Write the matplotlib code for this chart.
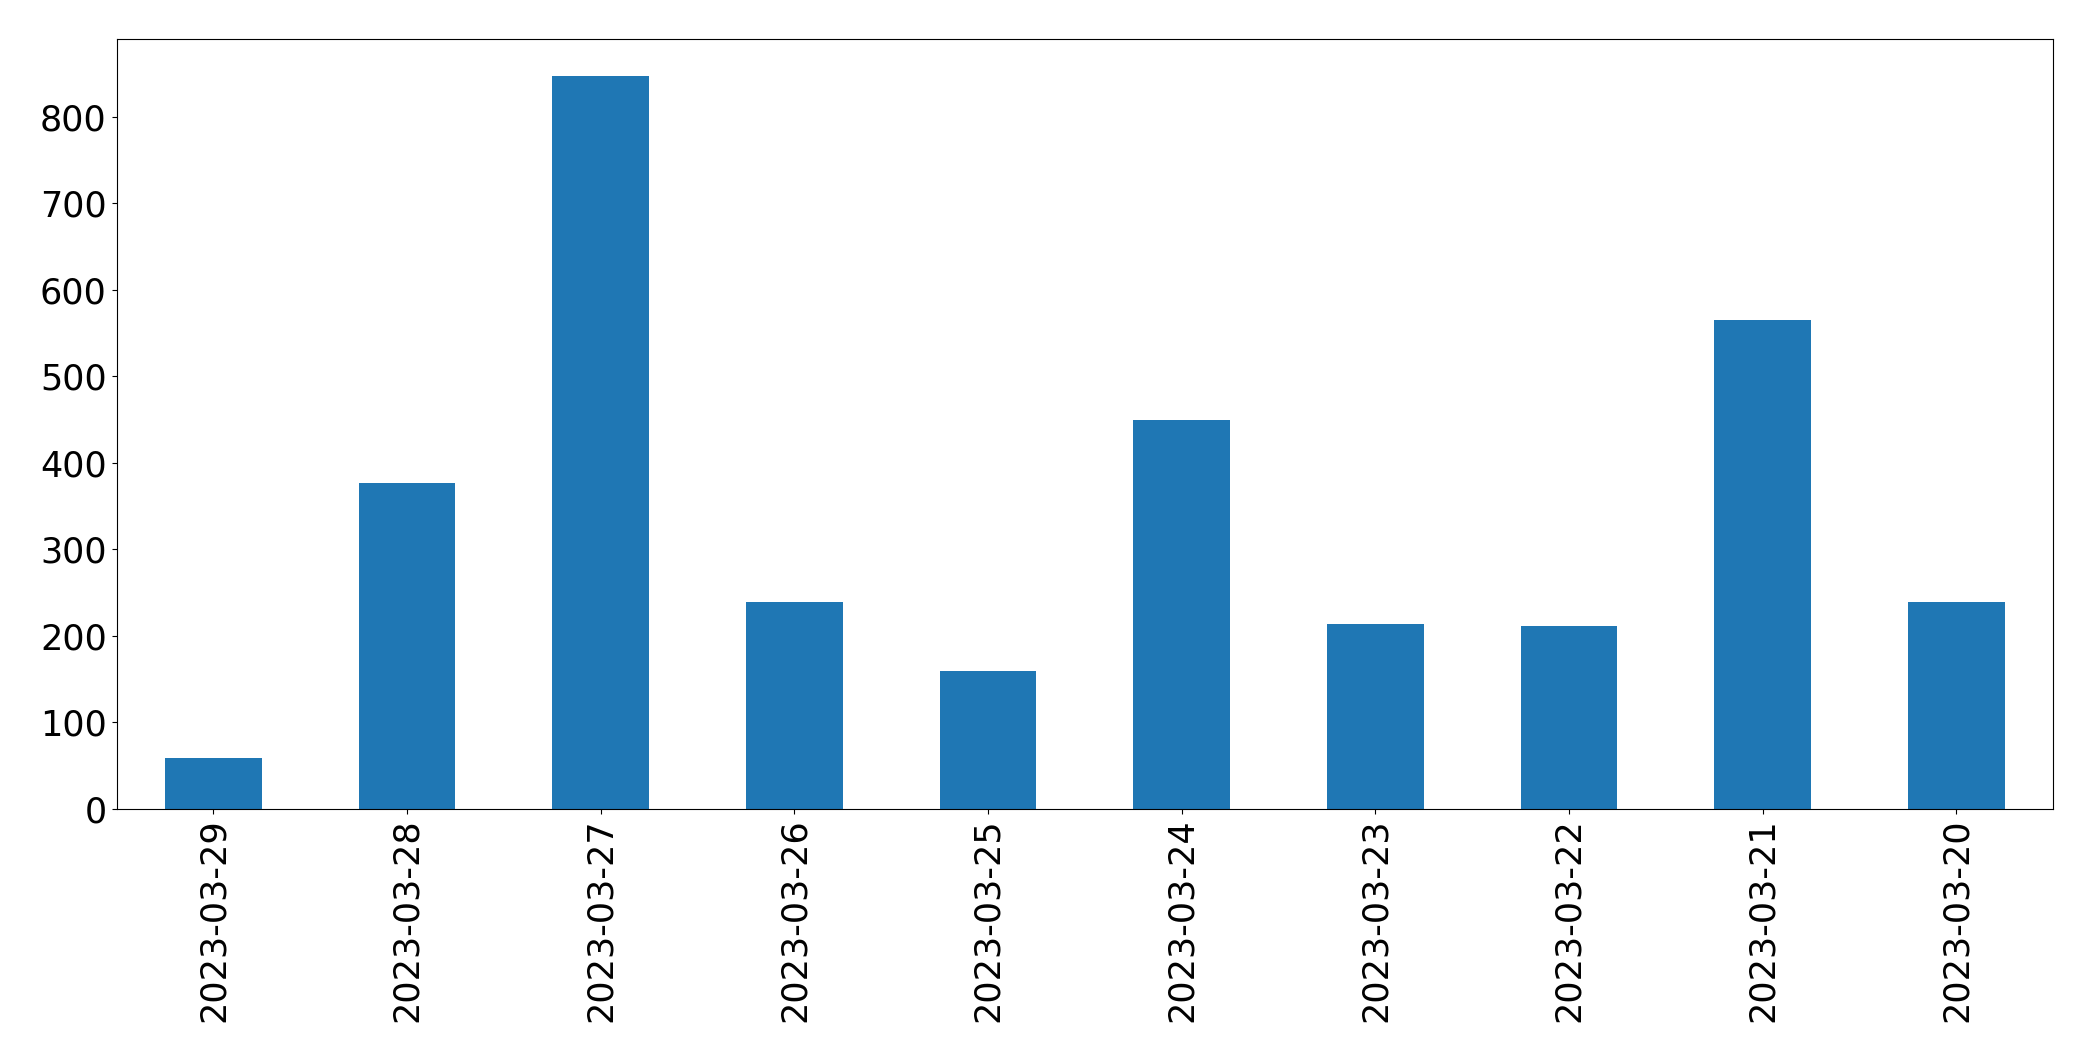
#!/usr/bin/env python3
"""Daily counts bar chart, newest date first."""

import matplotlib

matplotlib.use("Agg")
import matplotlib.pyplot as plt
import numpy as np


DATES = [
    "2023-03-29",
    "2023-03-28",
    "2023-03-27",
    "2023-03-26",
    "2023-03-25",
    "2023-03-24",
    "2023-03-23",
    "2023-03-22",
    "2023-03-21",
    "2023-03-20",
]
COUNTS = [59, 377, 847, 239, 159, 450, 214, 211, 565, 239]

BLUE = "#1f77b4"


def main() -> None:
    fig = plt.figure(figsize=(20.93, 10.61), dpi=100, facecolor="white")
    ax = fig.add_axes([0.0557, 0.2375, 0.9253, 0.7255])
    positions = np.arange(len(DATES))
    ax.bar(positions, COUNTS, width=0.5, color=BLUE)
    ax.set_xlim(-0.5, len(DATES) - 0.5)
    ax.set_xticks(positions, DATES, rotation=90)
    ax.tick_params(axis="both", labelsize=25.2)
    fig.savefig("out.png", dpi=100)
    plt.close(fig)


if __name__ == "__main__":
    main()
